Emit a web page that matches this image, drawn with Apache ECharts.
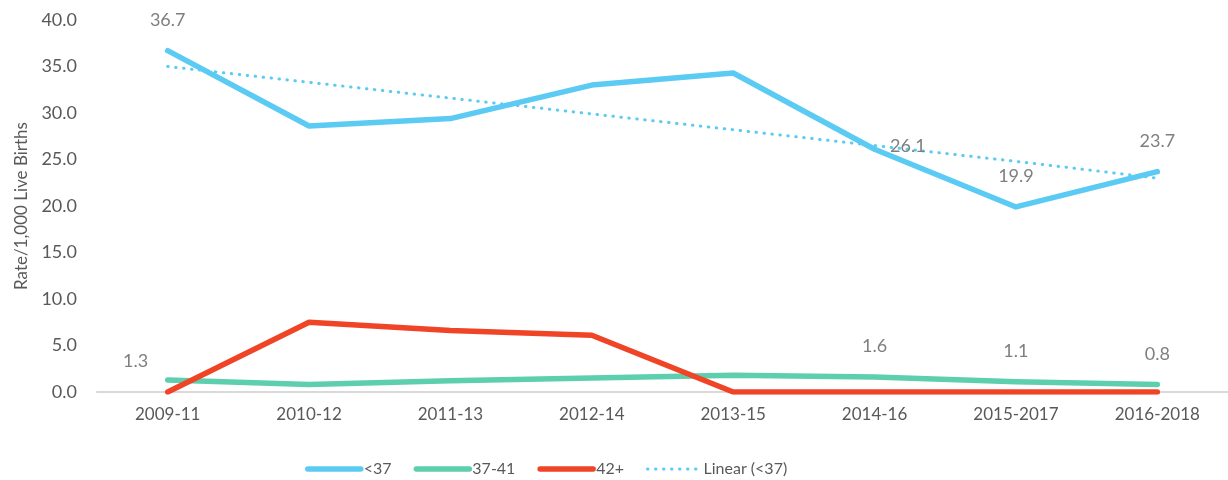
<!DOCTYPE html>
<html>
<head>
<meta charset="utf-8">
<title>Rate per 1,000 live births</title>
<script src="https://cdn.jsdelivr.net/npm/echarts@6/dist/echarts.min.js"></script>
<style>
  html, body { margin: 0; padding: 0; background: #fff; }
  #chart { width: 1228px; height: 480px; }
</style>
</head>
<body>
<div id="chart"></div>
<script>
// data
var categories = ['2009-11', '2010-12', '2011-13', '2012-14', '2013-15', '2014-16', '2015-2017', '2016-2018'];
var under37 = [36.7, 28.6, 29.4, 33.0, 34.3, 26.1, 19.9, 23.7];
var w37to41 = [1.3, 0.8, 1.2, 1.5, 1.8, 1.6, 1.1, 0.8];
var over42 = [0, 7.5, 6.6, 6.1, 0, 0, 0, 0];
var linearUnder37 = [35.0, 33.3, 31.6, 29.9, 28.2, 26.5, 24.8, 23.0];
var yTicks = [0, 5, 10, 15, 20, 25, 30, 35, 40];

var BLUE = '#5bcbf3', GREEN = '#5ecfae', RED = '#f04427';
var LABEL_GREY = '#7f7f7f', AXIS_GREY = '#595959';
var FONT = 'Lato';

// which points carry a value label, and where
var under37Labels = { 0: { position: 'top', distance: 21 }, 5: { position: 'right', distance: 15, offset: [0, -3] },
                      6: { position: 'top', distance: 21 }, 7: { position: 'top', distance: 21 } };
var w37Labels = { 0: { position: 'top', distance: 9, offset: [-32, 0] }, 5: { position: 'top', distance: 21 },
                  6: { position: 'top', distance: 21 }, 7: { position: 'top', distance: 21 } };

function withLabels(values, labelMap) {
  return values.map(function (v, i) {
    var cfg = labelMap[i];
    if (!cfg) return { value: v };
    return {
      value: v,
      label: Object.assign({ show: true, color: LABEL_GREY, fontSize: 18, fontFamily: FONT,
        formatter: function (p) { return p.value.toFixed(1); } }, cfg)
    };
  });
}

function lineSeries(name, data, color) {
  return {
    name: name,
    type: 'line',
    data: data,
    symbol: 'circle',
    symbolSize: 1,
    showSymbol: true,
    itemStyle: { color: color },
    lineStyle: { color: color, width: 5.5, cap: 'round', join: 'round' },
    label: { show: false },
    emphasis: { disabled: true },
    animation: false
  };
}

var chart = echarts.init(document.getElementById('chart'));
chart.setOption({
  backgroundColor: '#fff',
  textStyle: { fontFamily: FONT },
  grid: { left: 97, top: 20, width: 1139, bottom: 88 },
  legend: {
    top: 456,
    left: 300,
    itemWidth: 53,
    itemHeight: 14,
    itemGap: 22,
    lineStyle: { width: 'inherit', cap: 'round' },
    itemStyle: { opacity: 0 },
    textStyle: { color: AXIS_GREY, fontSize: 16, fontFamily: FONT, padding: [0, 0, 0, -2] },
    data: ['<37', '37-41', '42+', 'Linear (<37)']
  },
  xAxis: {
    type: 'category',
    data: categories,
    boundaryGap: true,
    axisLine: { lineStyle: { color: '#d9d9d9', width: 2 } },
    axisTick: { show: false },
    axisLabel: { color: AXIS_GREY, fontSize: 17, fontFamily: FONT, margin: 14 }
  },
  yAxis: {
    type: 'value',
    min: yTicks[0],
    max: yTicks[yTicks.length - 1],
    interval: yTicks[1] - yTicks[0],
    name: 'Rate/1,000 Live Births',
    nameLocation: 'middle',
    nameGap: 67,
    nameTextStyle: { color: AXIS_GREY, fontSize: 17, fontFamily: FONT },
    axisLine: { show: false },
    axisTick: { show: false },
    splitLine: { show: false },
    axisLabel: { color: AXIS_GREY, fontSize: 18, fontFamily: FONT, margin: 20,
      formatter: function (v) { return v.toFixed(1); } }
  },
  series: [
    lineSeries('<37', withLabels(under37, under37Labels), BLUE),
    lineSeries('37-41', withLabels(w37to41, w37Labels), GREEN),
    lineSeries('42+', withLabels(over42, {}), RED),
    {
      name: 'Linear (<37)',
      type: 'line',
      data: linearUnder37,
      symbol: 'none',
      itemStyle: { color: BLUE },
      lineStyle: { color: BLUE, width: 3, type: [0.5, 7.5], cap: 'round' },
      emphasis: { disabled: true },
      z: 1,
      animation: false
    }
  ]
});
</script>
</body>
</html>
